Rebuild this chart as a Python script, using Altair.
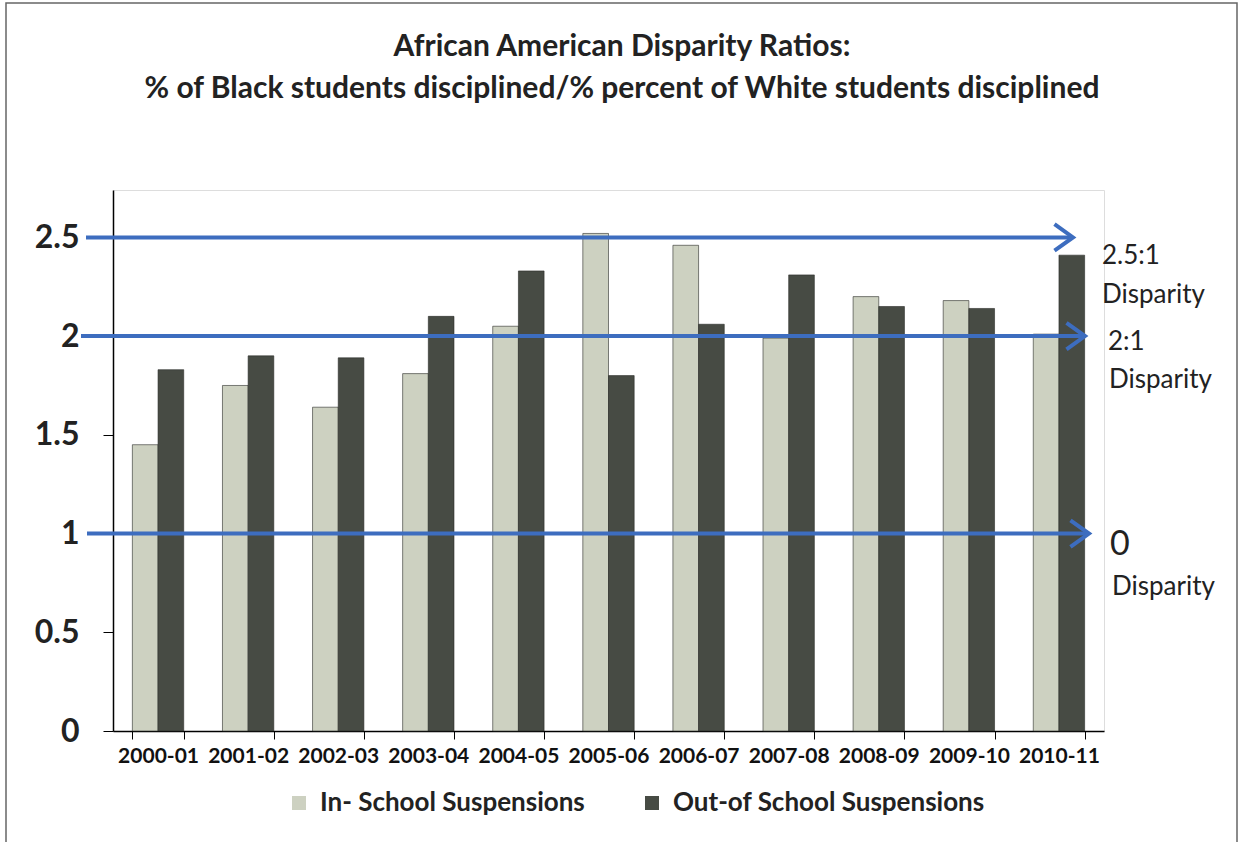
import altair as alt
import pandas as pd

# School years on the x axis
years = ["2000-01", "2001-02", "2002-03", "2003-04", "2004-05", "2005-06",
         "2006-07", "2007-08", "2008-09", "2009-10", "2010-11"]

# Disparity ratios (% of Black students disciplined / % of White students disciplined)
in_school = [1.45, 1.75, 1.64, 1.81, 2.05, 2.52, 2.46, 1.99, 2.20, 2.18, 2.01]
out_school = [1.83, 1.90, 1.89, 2.10, 2.33, 1.80, 2.06, 2.31, 2.15, 2.14, 2.41]

series_names = ["In- School Suspensions", "Out-of School Suspensions"]
series_colors = ["#cdd1c1", "#474b44"]

# Reference levels marked with arrows, and the notes beside them
arrow_levels = [2.5, 2.0, 1.0]
note_values = ["2.5:1", "2:1", "0"]
note_word = "Disparity"

title_lines = ["African American Disparity Ratios:",
               "% of Black students disciplined/% percent of White students disciplined"]

y_ticks = [0, 0.5, 1, 1.5, 2, 2.5]

FONT = "Lato"
BLUE = "#3d6dbf"

rows = []
for i, yr in enumerate(years):
    rows.append({"year": yr, "series": series_names[0], "ratio": in_school[i]})
    rows.append({"year": yr, "series": series_names[1], "ratio": out_school[i]})
bars_df = pd.DataFrame(rows)

W, H = 991, 541
PAD_L, PAD_T = 113, 190

y_scale = alt.Scale(domain=[0, 2.74], nice=False, zero=True)

bars = alt.Chart(bars_df).mark_bar(stroke="#2a2c28", strokeWidth=0.6).encode(
    x=alt.X("year:N", sort=years, title=None,
            scale=alt.Scale(paddingInner=0.43, paddingOuter=0.215),
            axis=alt.Axis(labelAngle=0, labelFont=FONT, labelFontSize=21,
                          labelFontWeight="bold", labelColor="#111",
                          labelPadding=6, tickBand="extent", tickSize=8,
                          tickColor="#000", domainColor="#000", domainWidth=1.5,
                          labelLimit=200)),
    xOffset=alt.XOffset("series:N", sort=series_names,
                        scale=alt.Scale(paddingInner=0, paddingOuter=0)),
    y=alt.Y("ratio:Q", scale=y_scale, title=None,
            axis=alt.Axis(values=y_ticks, labelExpr="datum.value",
                          labelFont=FONT, labelFontSize=32, labelFontWeight="bold",
                          labelColor="#222", labelPadding=24, tickSize=10,
                          tickColor="#000", domainColor="#000", domainWidth=1.5,
                          grid=False)),
    color=alt.Color("series:N", sort=series_names,
                    scale=alt.Scale(domain=series_names, range=series_colors),
                    legend=alt.Legend(orient="none", direction="horizontal",
                                      legendX=173, legendY=600, title=None,
                                      symbolType="square", symbolSize=196,
                                      symbolStrokeWidth=0, symbolOpacity=1,
                                      labelFont=FONT, labelFontSize=26,
                                      labelFontWeight="bold", labelColor="#222",
                                      labelOffset=8, columnPadding=54,
                                      labelLimit=500, padding=0)),
)

levels_df = pd.DataFrame({"level": arrow_levels})

# Arrow shafts and heads; start/tip offsets are in pixels from the plot's left edge
arrow_start = [-27, -32, -26]
arrow_tip = [960, 972, 976]
arrows = []
for lvl, x0, x1 in zip(arrow_levels, arrow_start, arrow_tip):
    d = levels_df[levels_df["level"] == lvl]
    arrows.append(alt.Chart(d).mark_rule(color=BLUE, strokeWidth=4).encode(
        x=alt.value(x0), x2=alt.value(x1 - 2),
        y=alt.Y("level:Q", scale=y_scale)))
    arrows.append(alt.Chart(d).mark_point(
        shape="M-1.4,-1L0,0L-1.4,1", filled=False, stroke=BLUE,
        strokeWidth=4, size=700, opacity=1).encode(
        x=alt.value(x1), y=alt.Y("level:Q", scale=y_scale)))

dummy = pd.DataFrame({"k": [0]})

# Notes to the right of the arrows
note_pos = [(989, 66, 26), (995, 152, 26), (997, 355, 34)]
word_pos = [(989, 105), (996, 190), (999, 397)]
notes = []
for txt, (nx, ny, fs), (wx, wy) in zip(note_values, note_pos, word_pos):
    notes.append(alt.Chart(dummy).mark_text(
        align="left", baseline="middle", font=FONT, fontSize=fs,
        color="#222").encode(x=alt.value(nx), y=alt.value(ny),
                             text=alt.value(txt)))
    notes.append(alt.Chart(dummy).mark_text(
        align="left", baseline="middle", font=FONT, fontSize=26,
        color="#222").encode(x=alt.value(wx), y=alt.value(wy),
                             text=alt.value(note_word)))

# Two-line heading above the plot
heading = []
for line, ty in zip(title_lines, [47, 89]):
    heading.append(alt.Chart(dummy).mark_text(
        align="center", baseline="middle", font=FONT, fontSize=30,
        fontWeight="bold", color="#222").encode(
        x=alt.value(622 - PAD_L), y=alt.value(ty - PAD_T), text=alt.value(line)))

# Outer frame around the whole figure
frame = alt.Chart(dummy).mark_rect(fill=None, stroke="#666", strokeWidth=1.5).encode(
    x=alt.value(6 - PAD_L), x2=alt.value(1237 - PAD_L),
    y=alt.value(3 - PAD_T), y2=alt.value(860 - PAD_T))

chart = alt.layer(frame, bars, *arrows, *notes, *heading).properties(
    width=W, height=H,
    autosize=alt.AutoSizeParams(type="none"),
    padding={"left": PAD_L, "top": PAD_T, "right": 1241 - PAD_L - W,
             "bottom": 842 - PAD_T - H},
).configure_view(strokeWidth=0, stroke="transparent").configure(background="white")

chart.save("out.html", embed_options={"renderer": "svg", "actions": False})
